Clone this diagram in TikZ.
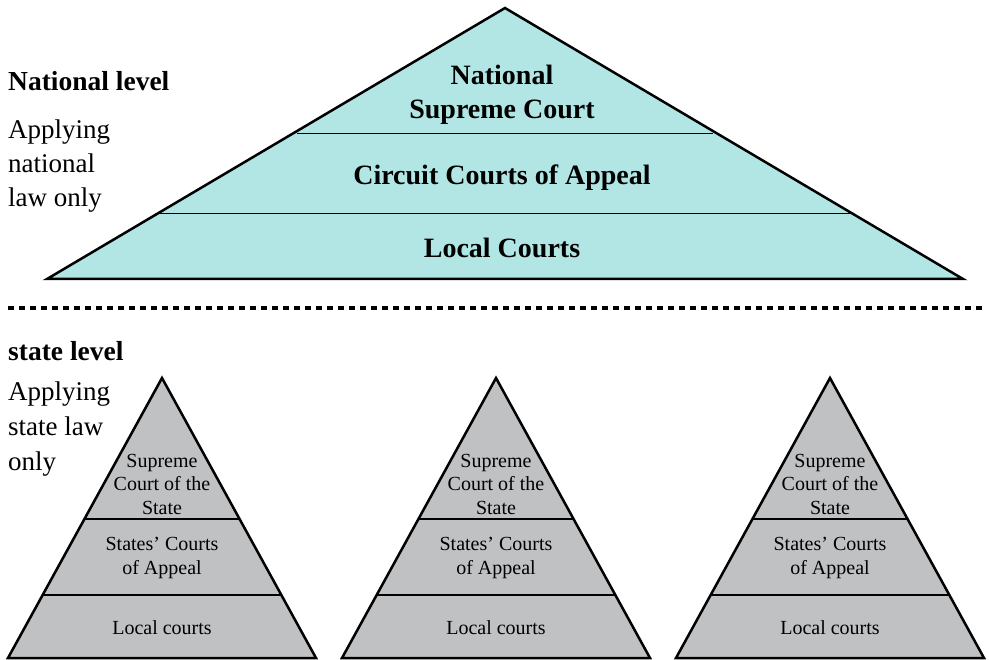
\documentclass[tikz,border=0pt]{standalone}
\usepackage{fontspec}
\setmainfont{Liberation Serif}
\usepackage{tikz}
\usetikzlibrary{positioning}
\definecolor{nationalcyan}{RGB}{178,230,229}
\definecolor{stategray}{RGB}{192,193,195}
\tikzstyle{levelname} = [font=\fontsize{27.5}{30}\selectfont\bfseries, anchor=west, inner sep=0pt]
\tikzstyle{levelnote} = [font=\fontsize{27}{34}\selectfont, align=left, inner sep=0pt]
\tikzstyle{statenote} = [font=\fontsize{27}{35}\selectfont, align=left, inner sep=0pt]
\tikzstyle{bigcourt} = [font=\fontsize{28}{34}\selectfont\bfseries, align=center, inner sep=0pt]
\tikzstyle{smallcourt} = [font=\fontsize{20}{23.5}\selectfont, align=center, inner sep=0pt]
\tikzstyle{outline} = [line width=2.5pt, line join=miter]
\tikzstyle{divider} = [line width=1pt]
\tikzstyle{statedivider} = [line width=2pt]
\tikzstyle{separator} = [line width=4pt, dash pattern=on 6pt off 5pt]

\begin{document}
\begin{tikzpicture}[x=1pt, y=-1pt]
\useasboundingbox (0,0) rectangle (989,660);
\fill[nationalcyan] (505,8) -- (963,279) -- (47,279) -- cycle;
\draw[divider] (297,134) -- (713,134);
\draw[divider] (159,214) -- (851,214);
\draw[outline] (505,8) -- (963,279) -- (47,279) -- cycle;
\node (supreme) [bigcourt] at (502,95) {National\\Supreme Court};
\node (circuit) [bigcourt] at (502,178) {Circuit Courts of Appeal};
\node (local) [bigcourt] at (502,248) {Local Courts};
\node (nationallevel) [levelname] at (8,81) {National level};
\node (nationalnote) [levelnote, below=29pt of nationallevel.south west, anchor=north west] {Applying\\national\\law only};
\draw[separator] (8,308) -- (986,308);
\node (statelevel) [levelname] at (8,351) {state level};
\node (statenote) [statenote, below=21pt of statelevel.south west, anchor=north west] {Applying\\state law\\only};
\foreach \n/\cx in {a/162,b/496,c/830} {
  \begin{scope}
    \clip (\cx,378) -- (\cx+154,658) -- (\cx-154,658) -- cycle;
    \fill[stategray] (\cx-160,370) rectangle (\cx+160,665);
    \draw[statedivider] (\cx-160,519) -- (\cx+160,519);
    \draw[statedivider] (\cx-160,595) -- (\cx+160,595);
  \end{scope}
  \draw[outline] (\cx,378) -- (\cx+154,658) -- (\cx-154,658) -- cycle;
  \node (supreme\n) [smallcourt] at (\cx,484) {Supreme\\Court of the\\State};
  \node (appeal\n) [smallcourt] at (\cx,558) {States' Courts\\of Appeal};
  \node (local\n) [smallcourt] at (\cx,628) {Local courts};
}
\end{tikzpicture}
\end{document}
